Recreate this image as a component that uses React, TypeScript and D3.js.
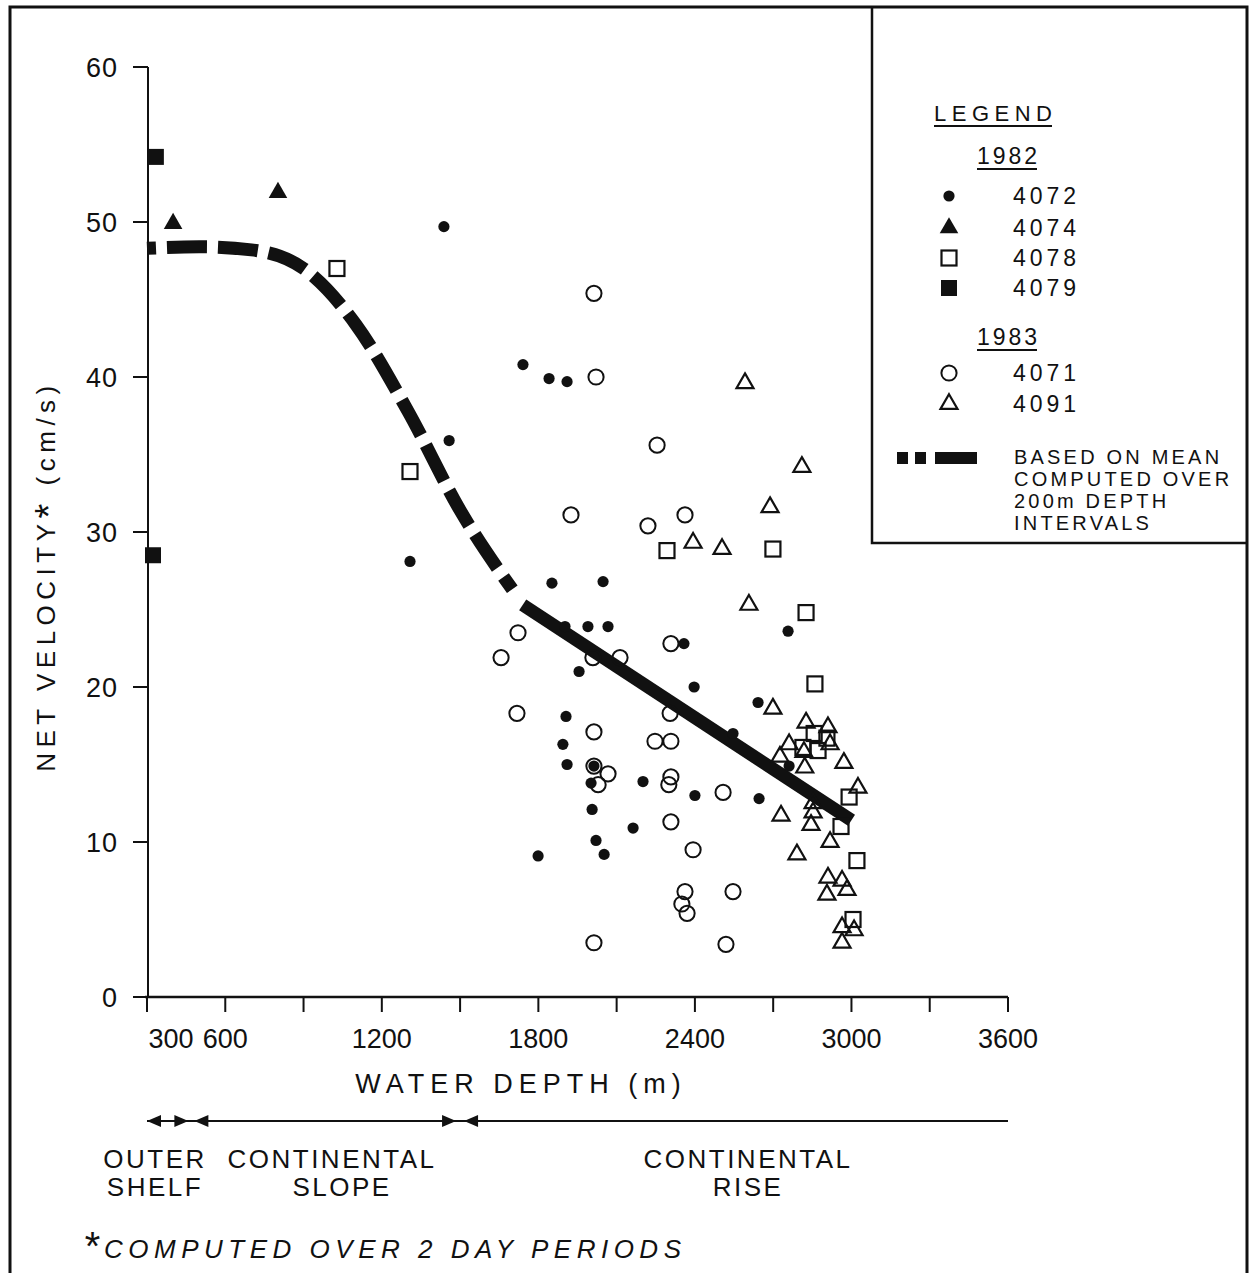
import * as d3 from 'd3';

// water depth (m) / net velocity (cm/s)
const d4072 = [1438, 1458, 1308, 1741, 1841, 1910, 1852, 2048, 1902, 1990, 2067, 2358, 1956, 2397, 2642, 1906, 2546, 1894, 1910, 2013, 2002, 2201, 2400, 2646, 2006, 2163, 2021, 2052, 1799, 2757, 2761];
const v4072 = [49.7, 35.9, 28.1, 40.8, 39.9, 39.7, 26.7, 26.8, 23.9, 23.9, 23.9, 22.8, 21.0, 20.0, 19.0, 18.1, 17.0, 16.3, 15.0, 14.9, 13.8, 13.9, 13.0, 12.8, 12.1, 10.9, 10.1, 9.2, 9.1, 23.6, 14.9];

const d4074 = [400, 802];
const v4074 = [49.9, 51.9];

const d4078 = [1028, 1308, 2293, 2699, 2826, 2860, 2857, 2906, 2814, 2872, 2991, 2960, 3021, 3006];
const v4078 = [47.0, 33.9, 28.8, 28.9, 24.8, 20.2, 17.0, 16.7, 16.1, 15.9, 12.9, 11.0, 8.8, 5.0];

const d4079 = [334, 323];
const v4079 = [54.2, 28.5];

const d4071 = [2013, 2021, 2255, 1925, 2220, 2362, 1722, 1657, 2009, 2113, 2308, 1718, 2305, 2013, 2247, 2308, 2013, 2067, 2029, 2308, 2300, 2508, 2308, 2393, 2362, 2350, 2370, 2546, 2013, 2519];
const v4071 = [45.4, 40.0, 35.6, 31.1, 30.4, 31.1, 23.5, 21.9, 21.9, 21.9, 22.8, 18.3, 18.3, 17.1, 16.5, 16.5, 14.9, 14.4, 13.7, 14.2, 13.7, 13.2, 11.3, 9.5, 6.8, 6.0, 5.4, 6.8, 3.5, 3.4];

const d4091 = [2592, 2810, 2688, 2393, 2504, 2607, 2699, 2826, 2910, 2761, 2818, 2726, 2918, 2821, 2971, 3025, 2853, 2853, 2730, 2845, 2918, 2791, 2910, 2964, 2906, 2983, 2964, 3010, 2964];
const v4091 = [39.6, 34.2, 31.6, 29.3, 28.9, 25.3, 18.6, 17.7, 17.4, 16.3, 15.8, 15.5, 16.3, 14.8, 15.1, 13.5, 12.5, 11.9, 11.7, 11.1, 10.0, 9.2, 7.7, 7.5, 6.6, 6.9, 4.5, 4.3, 3.5];

// mean over 200 m depth intervals
const meanDashDepth = [300, 500, 700, 900, 1100, 1300, 1500, 1700];
const meanDashVel = [48.3, 48.4, 48.2, 47.0, 43.4, 37.8, 31.4, 26.3];
const meanSolidDepth = [1740, 3000];
const meanSolidVel = [25.3, 11.4];

const xTicks = [300, 600, 900, 1200, 1500, 1800, 2100, 2400, 2700, 3000, 3300, 3600];
const xLabels = [300, 600, 1200, 1800, 2400, 3000, 3600];
const yTicks = [0, 10, 20, 30, 40, 50, 60];

const zoneBounds = [300, 470, 1500, 3600];
const zoneNames = [['OUTER', 'SHELF'], ['CONTINENTAL', 'SLOPE'], ['CONTINENTAL', 'RISE']];

const FONT = "'Liberation Sans', Arial, sans-serif";

const x = d3.scaleLinear().domain([300, 3600]).range([147, 1008]);
const y = d3.scaleLinear().domain([0, 60]).range([997, 67]);

const triFilled = d3.symbol().type(d3.symbolTriangle).size(150)();
const triOpen = d3.symbol().type(d3.symbolTriangle).size(125)();

const Dot = ({ cx, cy }) => <circle cx={cx} cy={cy} r={5.6} fill="#111" />;
const Ring = ({ cx, cy }) => <circle cx={cx} cy={cy} r={7.6} fill="none" stroke="#111" strokeWidth={2} />;
const OpenSq = ({ cx, cy }) => <rect x={cx - 7.5} y={cy - 7.5} width={15} height={15} fill="none" stroke="#111" strokeWidth={2.2} />;
const FillSq = ({ cx, cy }) => <rect x={cx - 8} y={cy - 8} width={16} height={16} fill="#111" />;
const FillTri = ({ cx, cy }) => <path d={triFilled} transform={`translate(${cx},${cy})`} fill="#111" />;
const OpenTri = ({ cx, cy }) => <path d={triOpen} transform={`translate(${cx},${cy})`} fill="none" stroke="#111" strokeWidth={2.2} />;

const series = [
  { d: d4071, v: v4071, M: Ring },
  { d: d4091, v: v4091, M: OpenTri },
  { d: d4078, v: v4078, M: OpenSq },
  { d: d4072, v: v4072, M: Dot },
  { d: d4074, v: v4074, M: FillTri },
  { d: d4079, v: v4079, M: FillSq },
];

const arrowHead = (px, dir) => {
  // dir = -1 points left, 1 points right
  const back = px - dir * 14;
  return <path d={`M${px},1121 L${back},1115 L${back},1127 Z`} fill="#111" />;
};

export default function App() {
  const meanLine = d3.line().x((d) => x(d[0])).y((d) => y(d[1])).curve(d3.curveMonotoneX);
  const dashPts = meanDashDepth.map((d, i) => [d, meanDashVel[i]]);
  const solidPts = meanSolidDepth.map((d, i) => [d, meanSolidVel[i]]);

  const legendRows = [
    { M: Dot, label: '4072', cy: 196 },
    { M: FillTri, label: '4074', cy: 228 },
    { M: OpenSq, label: '4078', cy: 258 },
    { M: FillSq, label: '4079', cy: 288 },
    { M: Ring, label: '4071', cy: 373 },
    { M: OpenTri, label: '4091', cy: 404 },
  ];

  return (
    <svg width={1250} height={1273} style={{ position: 'absolute', left: 0, top: 0, background: '#fff' }} fontFamily={FONT}>
      {/* frame */}
      <path d="M10,1273 L10,7 L1247,7 L1247,1273" fill="none" stroke="#111" strokeWidth={3} />
      <path d="M872,7 L872,543 L1247,543" fill="none" stroke="#111" strokeWidth={2.5} />

      {/* axes */}
      <line x1={148} x2={148} y1={y(60)} y2={y(0)} stroke="#111" strokeWidth={2} />
      <line x1={x(300) - 2} x2={x(3600)} y1={y(0)} y2={y(0)} stroke="#111" strokeWidth={2.4} />
      {yTicks.map((t) => (
        <g key={t}>
          <line x1={133} x2={148} y1={y(t)} y2={y(t)} stroke="#111" strokeWidth={2} />
          <text x={118} y={y(t) + 10} textAnchor="end" fontSize={27} letterSpacing={1} fill="#111">{t}</text>
        </g>
      ))}
      {xTicks.map((t) => (
        <line key={t} x1={x(t)} x2={x(t)} y1={y(0)} y2={y(0) + 15} stroke="#111" strokeWidth={2} />
      ))}
      {xLabels.map((t) => (
        <text key={t} x={x(t) + (t === 300 ? 24 : 0)} y={1048} textAnchor="middle" fontSize={27} fill="#111">{t}</text>
      ))}
      <text x={521} y={1093} textAnchor="middle" fontSize={27} letterSpacing={6} fill="#111">WATER DEPTH (m)</text>
      <text transform="translate(55,576) rotate(-90)" textAnchor="middle" fontSize={26} letterSpacing={5.5} fill="#111">
        NET VELOCITY<tspan fontSize={38} dy={7}>*</tspan><tspan dy={-7}> (cm/s)</tspan>
      </text>

      {/* mean curve */}
      <path d={meanLine(dashPts)} fill="none" stroke="#111" strokeWidth={13} strokeDasharray="40 11" strokeDashoffset={31} />
      <path d={meanLine(solidPts)} fill="none" stroke="#111" strokeWidth={13} />

      {/* data points */}
      {series.map((s, si) => (
        <g key={si}>
          {s.d.map((d, i) => (
            <s.M key={i} cx={x(d)} cy={y(s.v[i])} />
          ))}
        </g>
      ))}

      {/* legend */}
      <text x={934} y={121} fontSize={22} letterSpacing={5.5} fill="#111">LEGEND</text>
      <line x1={934} x2={1052} y1={126} y2={126} stroke="#111" strokeWidth={2} />
      <text x={977} y={164} fontSize={23} letterSpacing={3} fill="#111">1982</text>
      <line x1={977} x2={1037} y1={169} y2={169} stroke="#111" strokeWidth={2} />
      <text x={977} y={345} fontSize={23} letterSpacing={3} fill="#111">1983</text>
      <line x1={977} x2={1037} y1={350} y2={350} stroke="#111" strokeWidth={2} />
      {legendRows.map((r) => (
        <g key={r.label}>
          <r.M cx={949} cy={r.cy} />
          <text x={1013} y={r.cy + 8} fontSize={23} letterSpacing={4} fill="#111">{r.label}</text>
        </g>
      ))}
      <rect x={897} y={452} width={11} height={12} fill="#111" />
      <rect x={915} y={452} width={11} height={12} fill="#111" />
      <rect x={935} y={452} width={42} height={12} fill="#111" />
      {['BASED ON MEAN', 'COMPUTED OVER', '200m DEPTH', 'INTERVALS'].map((t, i) => (
        <text key={t} x={1014} y={464 + i * 22} fontSize={20} letterSpacing={3.2} fill="#111">{t}</text>
      ))}

      {/* physiographic zones */}
      <line x1={x(zoneBounds[0])} x2={x(zoneBounds[3])} y1={1121} y2={1121} stroke="#111" strokeWidth={2} />
      {arrowHead(x(zoneBounds[0]), -1)}
      {arrowHead(x(zoneBounds[1]) - 3, 1)}
      {arrowHead(x(zoneBounds[1]) + 3, -1)}
      {arrowHead(x(zoneBounds[2]) - 4, 1)}
      {arrowHead(x(zoneBounds[2]) + 4, -1)}
      {zoneNames.map((lines, i) => {
        const cx = i === 0 ? 155 : i === 1 ? 332 : 748;
        return (
          <g key={i}>
            <text x={cx} y={1168} textAnchor="middle" fontSize={26} letterSpacing={2.5} fill="#111">{lines[0]}</text>
            <text x={cx + (i === 1 ? 10 : 0)} y={1196} textAnchor="middle" fontSize={26} letterSpacing={2.5} fill="#111">{lines[1]}</text>
          </g>
        );
      })}

      {/* footnote */}
      <text x={83} y={1258} fontSize={26} fontStyle="italic" letterSpacing={5.5} fill="#111">
        <tspan fontSize={40} dy={2}>*</tspan><tspan dy={-2}>COMPUTED OVER 2 DAY PERIODS</tspan>
      </text>
    </svg>
  );
}
